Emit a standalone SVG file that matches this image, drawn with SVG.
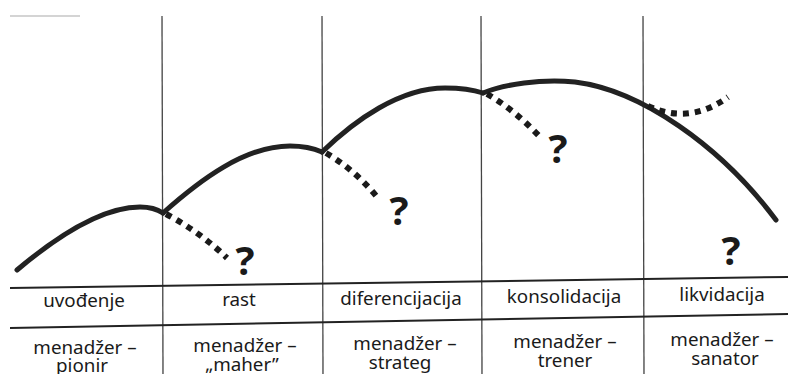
<svg xmlns="http://www.w3.org/2000/svg" width="788" height="374" viewBox="0 0 788 374">
<defs>
<style>
.grid{stroke:#444;stroke-width:1.3;fill:none}
.hline{stroke:#222;stroke-width:2;fill:none}
.curve{stroke:#222;stroke-width:5;fill:none;stroke-linecap:round;stroke-linejoin:round}
.dots{stroke:#1a1a1a;stroke-width:6;fill:none;stroke-dasharray:6 6}
.lbl{font-family:"Noto Sans","Open Sans","DejaVu Sans",sans-serif;font-size:18.8px;fill:#1a1a1a;text-anchor:middle}
.q{font-family:"Open Sans","Noto Sans",sans-serif;font-size:40px;font-weight:700;fill:#1a1a1a;text-anchor:middle}
</style>
</defs>
<rect width="788" height="374" fill="#fff"/>
<line x1="10" y1="16" x2="80" y2="16" stroke="#d4d4d4" stroke-width="2"/>
<g id="grid">
<line class="grid" x1="162" y1="16" x2="163" y2="374"/>
<line class="grid" x1="322" y1="16" x2="323" y2="374"/>
<line class="grid" x1="481" y1="16" x2="482" y2="374"/>
<line class="grid" x1="643" y1="16" x2="644" y2="374"/>
<line class="hline" x1="10" y1="288" x2="788" y2="277"/>
<line class="hline" x1="10" y1="328" x2="788" y2="314"/>
</g>
<g id="connectors">
<path class="curve" d="M17,270 C55,238 100,207 140,207 C150,207 157,209 163,213"/>
<path class="curve" d="M163,213 C200,180 245,146 290,146 C303,146 313,148 322,152"/>
<path class="curve" d="M322,152 C355,120 400,88 445,88 C462,88 474,90 483,93"/>
<path class="curve" d="M483,93 C505,84 540,79 575,82 C640,90 720,145 776,220"/>
<path class="dots" d="M166,214 Q200,232 227,258"/>
<path class="dots" d="M326,153 Q355,170 377,197"/>
<path class="dots" d="M487,94 Q515,110 541,138"/>
<path class="dots" d="M648,106 Q690,125 728,97"/>
</g>
<g id="q1"><text class="q" x="245" y="275">?</text></g>
<g id="q2"><text class="q" x="399" y="225">?</text></g>
<g id="q3"><text class="q" x="558" y="163">?</text></g>
<g id="q4"><text class="q" x="731" y="265">?</text></g>
<g id="col1">
<text class="lbl" x="84" y="307">uvođenje</text>
<text class="lbl" x="85" y="354">menadžer –</text>
<text class="lbl" x="82" y="372">pionir</text>
</g>
<g id="col2">
<text class="lbl" x="239" y="306">rast</text>
<text class="lbl" x="245" y="352">menadžer –</text>
<text class="lbl" x="242" y="371">„maher”</text>
</g>
<g id="col3">
<text class="lbl" x="401" y="305">diferencijacija</text>
<text class="lbl" x="405" y="350">menadžer –</text>
<text class="lbl" x="400" y="369">strateg</text>
</g>
<g id="col4">
<text class="lbl" x="564" y="303">konsolidacija</text>
<text class="lbl" x="565" y="348">menadžer –</text>
<text class="lbl" x="565" y="367">trener</text>
</g>
<g id="col5">
<text class="lbl" x="722" y="301">likvidacija</text>
<text class="lbl" x="722" y="346">menadžer –</text>
<text class="lbl" x="725" y="365">sanator</text>
</g>
</svg>
